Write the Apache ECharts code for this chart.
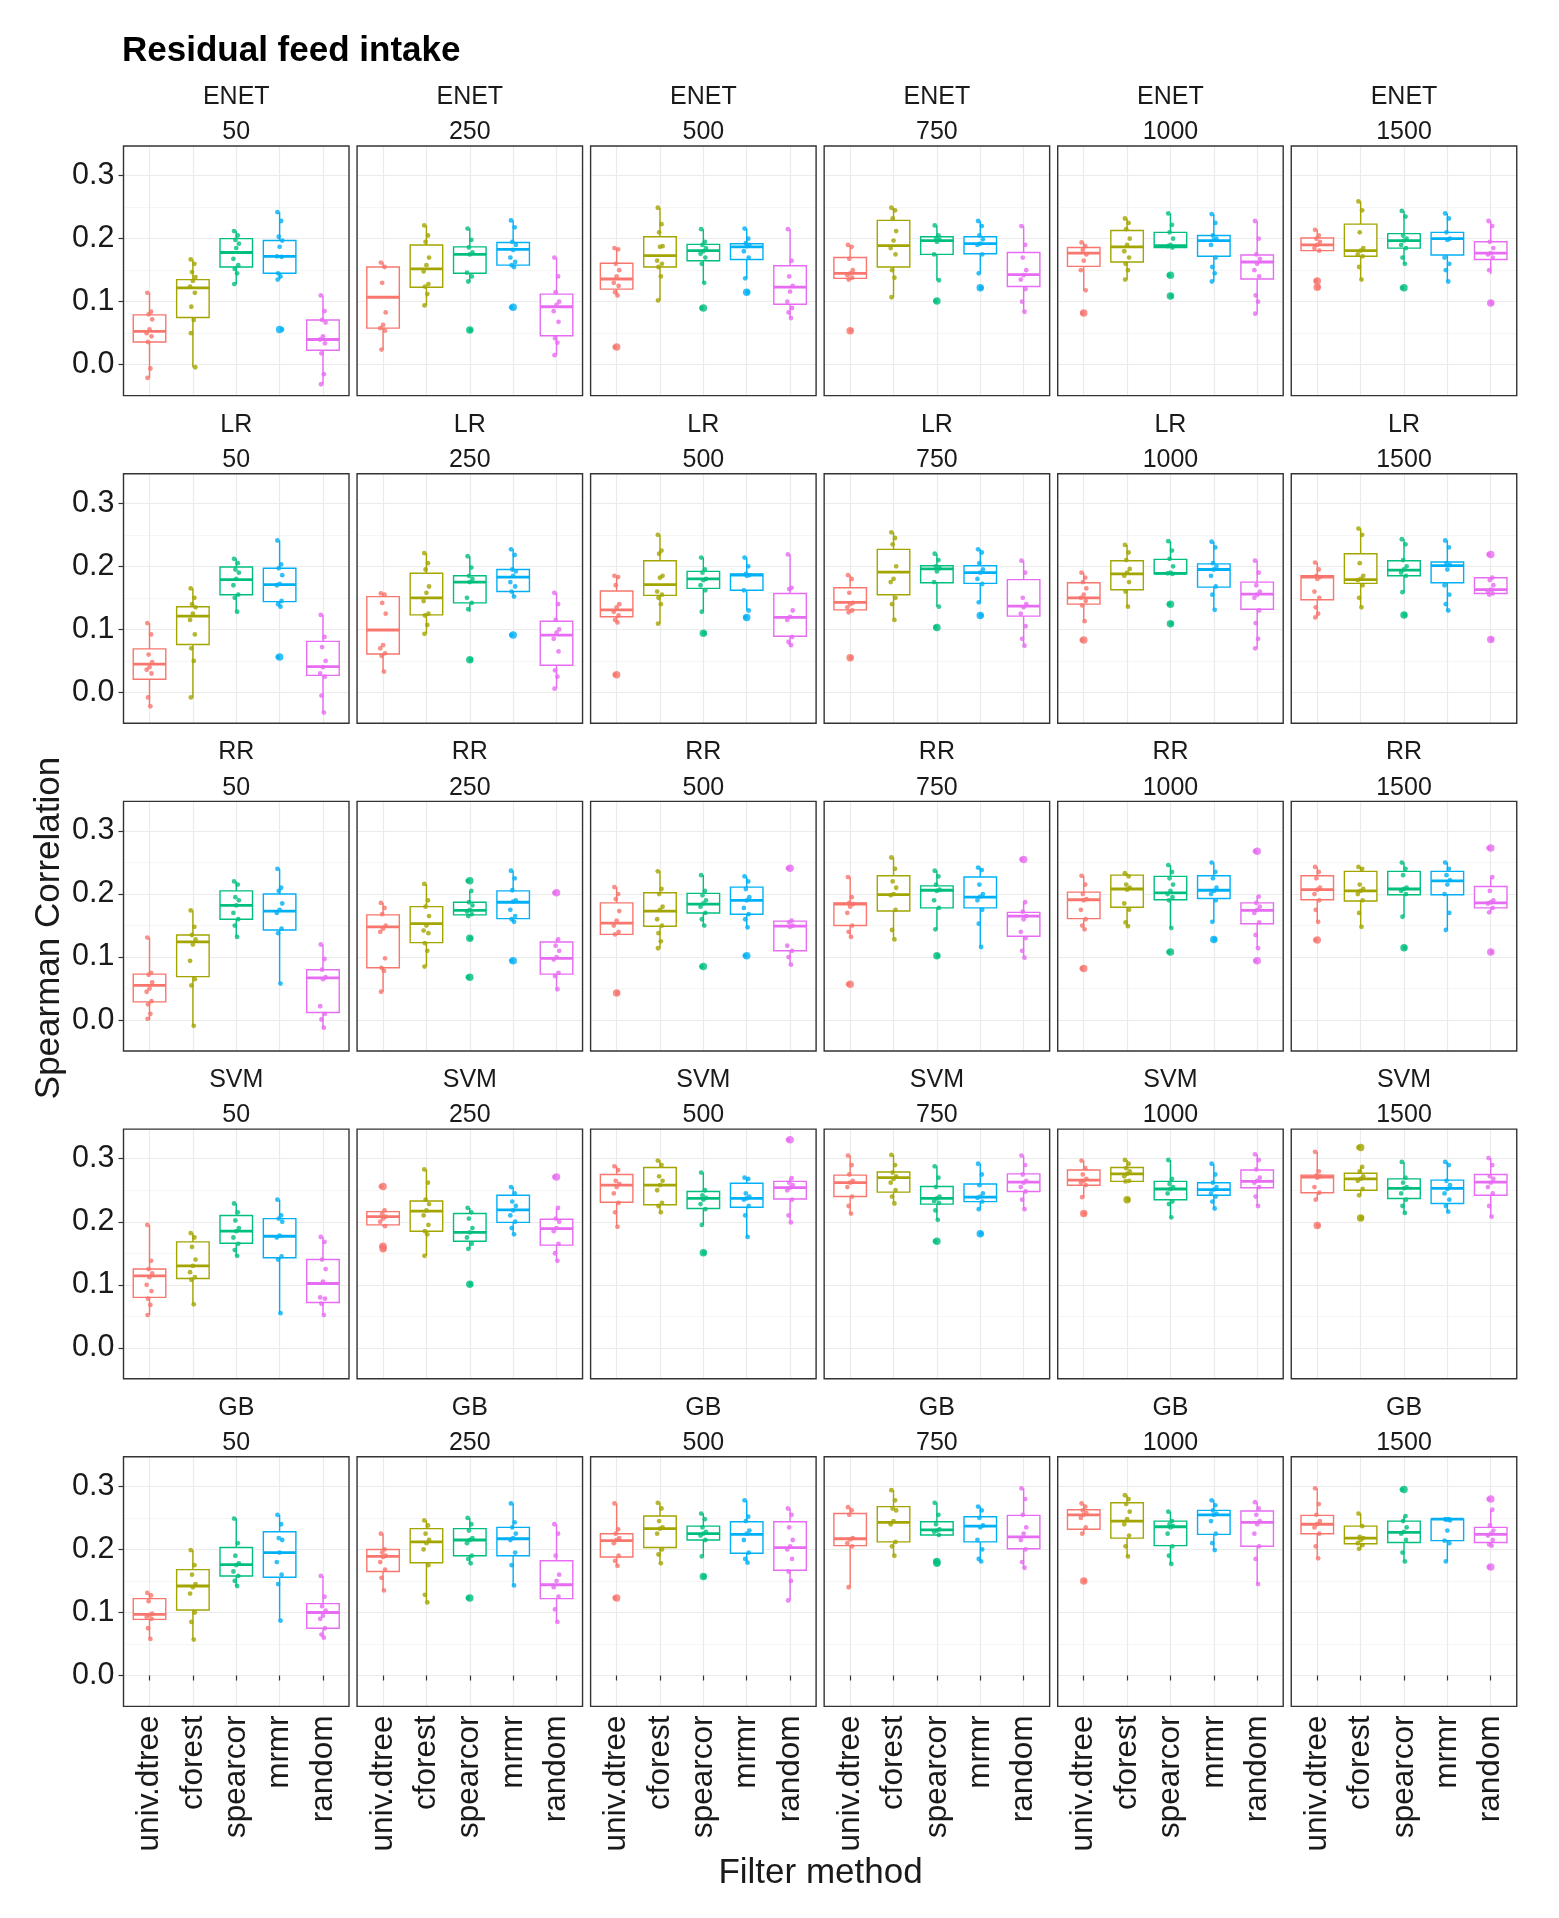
<!DOCTYPE html>
<html><head><meta charset="utf-8">
<script src="https://cdn.jsdelivr.net/npm/echarts@6/dist/echarts.min.js"></script>
<style>html,body{margin:0;padding:0;background:#fff}#c{width:1559px;height:1918px}</style>
</head><body><div id="c"></div>
<script>
const TITLE = 'Residual feed intake';
const Y_TITLE = 'Spearman Correlation';
const X_TITLE = 'Filter method';
const MODELS = ['ENET','LR','RR','SVM','GB'];
const SIZES = ['50','250','500','750','1000','1500'];
const METHODS = ['univ.dtree','cforest','spearcor','mrmr','random'];
const Y_TICKS = [0, 0.1, 0.2, 0.3];
const COLORS = ['#F8766D','#A3A500','#00BF7D','#00B0F6','#E76BF3'];

// box statistics per panel (size) and method: [lower whisker, Q1, median, Q3, upper whisker]
const BOX_ENET = [
 [[-0.021,0.036,0.053,0.079,0.114],[-0.004,0.075,0.122,0.135,0.167],[0.128,0.155,0.178,0.200,0.212],[0.135,0.145,0.172,0.197,0.242],[-0.031,0.023,0.040,0.071,0.110]],
 [[0.024,0.058,0.107,0.155,0.162],[0.094,0.123,0.152,0.190,0.221],[0.132,0.145,0.175,0.187,0.216],[0.155,0.158,0.183,0.194,0.229],[0.015,0.046,0.092,0.112,0.170]],
 [[0.110,0.120,0.136,0.161,0.185],[0.102,0.155,0.173,0.203,0.249],[0.130,0.165,0.181,0.191,0.215],[0.137,0.167,0.187,0.192,0.216],[0.074,0.096,0.123,0.157,0.215]],
 [[0.134,0.137,0.145,0.170,0.190],[0.107,0.155,0.189,0.229,0.249],[0.134,0.175,0.197,0.203,0.221],[0.145,0.176,0.192,0.203,0.228],[0.084,0.124,0.143,0.178,0.220]],
 [[0.118,0.156,0.177,0.186,0.194],[0.135,0.163,0.187,0.213,0.232],[0.186,0.186,0.189,0.210,0.240],[0.132,0.172,0.197,0.205,0.239],[0.081,0.136,0.163,0.174,0.228]],
 [[0.181,0.181,0.190,0.201,0.214],[0.135,0.172,0.181,0.223,0.259],[0.160,0.185,0.197,0.208,0.244],[0.132,0.174,0.200,0.210,0.240],[0.144,0.167,0.177,0.195,0.228]]
];
const BOX_LR = [
 [[-0.022,0.021,0.045,0.069,0.110],[-0.008,0.076,0.121,0.136,0.165],[0.128,0.155,0.179,0.199,0.212],[0.136,0.144,0.171,0.197,0.241],[-0.032,0.027,0.041,0.081,0.123]],
 [[0.033,0.061,0.099,0.152,0.157],[0.093,0.123,0.150,0.189,0.221],[0.128,0.142,0.175,0.185,0.216],[0.152,0.160,0.183,0.195,0.227],[0.006,0.043,0.091,0.113,0.158]],
 [[0.111,0.120,0.131,0.161,0.185],[0.109,0.154,0.171,0.209,0.250],[0.128,0.165,0.180,0.192,0.214],[0.130,0.162,0.186,0.188,0.214],[0.075,0.089,0.119,0.157,0.219]],
 [[0.127,0.131,0.143,0.166,0.186],[0.115,0.155,0.191,0.227,0.254],[0.136,0.174,0.196,0.201,0.220],[0.143,0.173,0.190,0.201,0.227],[0.074,0.121,0.137,0.179,0.209]],
 [[0.113,0.140,0.150,0.174,0.190],[0.136,0.163,0.188,0.209,0.234],[0.188,0.188,0.189,0.211,0.240],[0.131,0.167,0.195,0.204,0.239],[0.070,0.132,0.156,0.175,0.209]],
 [[0.119,0.147,0.183,0.185,0.206],[0.135,0.173,0.179,0.220,0.260],[0.159,0.185,0.194,0.209,0.243],[0.130,0.174,0.201,0.207,0.241],[0.155,0.157,0.163,0.182,0.182]]
];
const BOX_RR = [
 [[0.000,0.029,0.055,0.073,0.131],[-0.009,0.069,0.124,0.135,0.174],[0.132,0.160,0.182,0.205,0.220],[0.058,0.143,0.173,0.200,0.240],[-0.012,0.012,0.067,0.080,0.120]],
 [[0.045,0.083,0.148,0.167,0.186],[0.085,0.123,0.153,0.180,0.216],[0.165,0.167,0.174,0.187,0.205],[0.156,0.161,0.187,0.205,0.237],[0.049,0.073,0.098,0.124,0.128]],
 [[0.136,0.136,0.154,0.186,0.211],[0.114,0.149,0.173,0.202,0.236],[0.150,0.170,0.184,0.201,0.230],[0.147,0.168,0.190,0.211,0.228],[0.088,0.110,0.149,0.157,0.158]],
 [[0.132,0.150,0.184,0.186,0.227],[0.128,0.173,0.199,0.229,0.258],[0.144,0.178,0.206,0.213,0.237],[0.116,0.178,0.195,0.227,0.242],[0.099,0.133,0.165,0.171,0.187]],
 [[0.144,0.161,0.191,0.203,0.229],[0.149,0.179,0.208,0.230,0.233],[0.146,0.191,0.202,0.228,0.246],[0.156,0.193,0.206,0.229,0.250],[0.114,0.153,0.174,0.186,0.196]],
 [[0.156,0.191,0.207,0.229,0.243],[0.148,0.189,0.205,0.236,0.243],[0.164,0.199,0.208,0.236,0.250],[0.143,0.199,0.221,0.236,0.250],[0.171,0.178,0.186,0.212,0.227]]
];
const BOX_SVM = [
 [[0.052,0.080,0.114,0.125,0.195],[0.069,0.110,0.130,0.168,0.182],[0.146,0.166,0.185,0.210,0.229],[0.055,0.143,0.177,0.205,0.235],[0.052,0.072,0.102,0.140,0.176]],
 [[0.193,0.195,0.208,0.216,0.218],[0.146,0.185,0.217,0.233,0.283],[0.157,0.169,0.183,0.213,0.222],[0.180,0.199,0.219,0.242,0.255],[0.138,0.163,0.189,0.204,0.222]],
 [[0.192,0.231,0.258,0.275,0.288],[0.215,0.227,0.258,0.286,0.297],[0.195,0.221,0.237,0.248,0.278],[0.176,0.223,0.237,0.261,0.270],[0.199,0.236,0.254,0.264,0.269]],
 [[0.213,0.240,0.262,0.274,0.305],[0.229,0.247,0.270,0.279,0.306],[0.203,0.228,0.237,0.256,0.288],[0.220,0.232,0.239,0.260,0.292],[0.220,0.248,0.263,0.276,0.305]],
 [[0.239,0.258,0.266,0.282,0.297],[0.264,0.264,0.276,0.286,0.298],[0.207,0.235,0.252,0.264,0.298],[0.221,0.242,0.251,0.262,0.292],[0.225,0.254,0.264,0.282,0.307]],
 [[0.235,0.246,0.271,0.274,0.311],[0.242,0.250,0.268,0.277,0.287],[0.214,0.237,0.253,0.268,0.295],[0.216,0.229,0.253,0.266,0.295],[0.208,0.242,0.263,0.275,0.301]]
];
const BOX_GB = [
 [[0.058,0.089,0.097,0.122,0.131],[0.057,0.104,0.142,0.168,0.199],[0.142,0.158,0.176,0.203,0.249],[0.087,0.156,0.195,0.228,0.255],[0.060,0.075,0.100,0.114,0.158]],
 [[0.135,0.165,0.189,0.200,0.225],[0.116,0.179,0.212,0.233,0.246],[0.178,0.190,0.215,0.233,0.250],[0.143,0.190,0.217,0.235,0.273],[0.085,0.122,0.144,0.182,0.240]],
 [[0.174,0.188,0.214,0.225,0.273],[0.178,0.203,0.233,0.253,0.274],[0.189,0.215,0.225,0.237,0.257],[0.179,0.194,0.224,0.244,0.278],[0.119,0.167,0.203,0.244,0.265]],
 [[0.140,0.206,0.217,0.257,0.267],[0.190,0.212,0.243,0.268,0.294],[0.223,0.223,0.231,0.244,0.274],[0.181,0.212,0.237,0.252,0.268],[0.171,0.201,0.220,0.254,0.297]],
 [[0.225,0.232,0.255,0.263,0.273],[0.189,0.218,0.245,0.274,0.286],[0.177,0.206,0.236,0.245,0.260],[0.199,0.224,0.255,0.262,0.278],[0.145,0.205,0.243,0.261,0.275]],
 [[0.186,0.225,0.240,0.254,0.297],[0.201,0.209,0.218,0.237,0.257],[0.181,0.211,0.227,0.245,0.253],[0.181,0.214,0.248,0.248,0.248],[0.206,0.211,0.224,0.235,0.263]]
];

// individual fold values per panel and method
const PTS_ENET = [
 [[0.114,0.084,0.080,0.072,0.056,0.050,0.045,0.036,-0.006,-0.021],[0.167,0.160,0.147,0.139,0.133,0.124,0.114,0.092,0.071,0.050,-0.004],[0.212,0.205,0.198,0.192,0.185,0.168,0.158,0.152,0.145,0.128],[0.242,0.228,0.203,0.197,0.187,0.172,0.171,0.145,0.140,0.135,0.056],[0.110,0.085,0.071,0.067,0.045,0.040,0.034,0.018,-0.015,-0.031]],
 [[0.162,0.155,0.130,0.083,0.063,0.058,0.054,0.024],[0.221,0.205,0.195,0.170,0.158,0.148,0.128,0.124,0.112,0.094],[0.216,0.198,0.186,0.178,0.175,0.146,0.140,0.132,0.055],[0.229,0.218,0.195,0.190,0.182,0.170,0.163,0.158,0.155,0.091],[0.170,0.140,0.115,0.100,0.095,0.085,0.068,0.042,0.035,0.015]],
 [[0.185,0.183,0.160,0.150,0.140,0.130,0.125,0.115,0.110,0.028],[0.249,0.223,0.210,0.188,0.187,0.165,0.160,0.155,0.140,0.102],[0.215,0.195,0.190,0.185,0.180,0.176,0.170,0.160,0.130,0.090],[0.216,0.200,0.193,0.190,0.188,0.180,0.170,0.137,0.115],[0.215,0.165,0.140,0.125,0.116,0.100,0.090,0.083,0.074]],
 [[0.190,0.187,0.168,0.150,0.145,0.142,0.138,0.135,0.054],[0.249,0.245,0.232,0.212,0.197,0.185,0.175,0.150,0.138,0.107],[0.221,0.205,0.200,0.198,0.195,0.175,0.134,0.101],[0.228,0.220,0.205,0.199,0.192,0.190,0.175,0.145,0.122],[0.220,0.190,0.170,0.150,0.142,0.135,0.120,0.100,0.084]],
 [[0.194,0.188,0.182,0.175,0.165,0.150,0.118,0.082],[0.232,0.225,0.215,0.200,0.190,0.180,0.170,0.160,0.150,0.135],[0.240,0.222,0.210,0.200,0.190,0.188,0.186,0.142,0.109],[0.239,0.225,0.205,0.200,0.198,0.190,0.170,0.155,0.145,0.132],[0.228,0.200,0.175,0.168,0.160,0.150,0.140,0.110,0.100,0.081]],
 [[0.214,0.205,0.200,0.195,0.190,0.185,0.181,0.133,0.123],[0.259,0.245,0.210,0.185,0.181,0.175,0.172,0.155,0.135],[0.244,0.235,0.205,0.200,0.197,0.190,0.185,0.170,0.160,0.122],[0.240,0.232,0.210,0.200,0.198,0.170,0.160,0.150,0.132],[0.228,0.220,0.195,0.185,0.177,0.175,0.170,0.150,0.098]]
];
const PTS_LR = [
 [[0.110,0.092,0.060,0.048,0.040,0.036,0.030,-0.008,-0.022],[0.165,0.150,0.140,0.135,0.125,0.115,0.092,0.070,0.050,-0.008],[0.212,0.205,0.195,0.190,0.180,0.170,0.155,0.150,0.128],[0.241,0.203,0.197,0.186,0.172,0.170,0.145,0.140,0.136,0.056],[0.123,0.088,0.072,0.050,0.040,0.030,0.025,-0.005,-0.032]],
 [[0.157,0.155,0.142,0.125,0.075,0.070,0.062,0.058,0.033],[0.221,0.205,0.195,0.168,0.158,0.145,0.125,0.122,0.107,0.093],[0.216,0.198,0.185,0.180,0.175,0.150,0.142,0.132,0.052],[0.227,0.218,0.195,0.192,0.185,0.175,0.168,0.160,0.152,0.091],[0.158,0.140,0.115,0.100,0.095,0.085,0.065,0.035,0.025,0.006]],
 [[0.185,0.183,0.170,0.140,0.135,0.128,0.122,0.115,0.111,0.028],[0.250,0.225,0.220,0.185,0.182,0.160,0.155,0.150,0.140,0.109],[0.214,0.195,0.190,0.180,0.178,0.170,0.162,0.128,0.094],[0.214,0.200,0.188,0.186,0.185,0.162,0.130,0.119],[0.219,0.166,0.164,0.130,0.120,0.115,0.088,0.080,0.075]],
 [[0.186,0.180,0.158,0.142,0.140,0.135,0.130,0.127,0.055],[0.254,0.245,0.235,0.200,0.180,0.175,0.150,0.140,0.115],[0.220,0.210,0.200,0.197,0.192,0.175,0.136,0.103],[0.227,0.222,0.205,0.195,0.190,0.180,0.172,0.143,0.122],[0.209,0.190,0.150,0.140,0.135,0.125,0.105,0.085,0.074]],
 [[0.190,0.182,0.175,0.165,0.155,0.150,0.145,0.138,0.113,0.083],[0.234,0.222,0.210,0.196,0.190,0.185,0.175,0.160,0.136],[0.240,0.225,0.212,0.200,0.190,0.189,0.188,0.140,0.109],[0.239,0.230,0.205,0.200,0.195,0.185,0.168,0.155,0.131],[0.209,0.190,0.170,0.160,0.155,0.150,0.130,0.110,0.085,0.070]],
 [[0.206,0.195,0.185,0.183,0.180,0.160,0.150,0.135,0.125,0.119],[0.260,0.250,0.205,0.185,0.180,0.178,0.170,0.150,0.135],[0.243,0.235,0.210,0.200,0.195,0.190,0.185,0.159,0.123],[0.241,0.230,0.205,0.202,0.195,0.170,0.155,0.140,0.130],[0.219,0.182,0.178,0.170,0.163,0.160,0.157,0.155,0.084]]
];
const PTS_RR = [
 [[0.131,0.075,0.072,0.060,0.050,0.045,0.030,0.025,0.010,0.002],[0.174,0.148,0.135,0.128,0.120,0.094,0.065,0.055,-0.009],[0.220,0.215,0.195,0.190,0.182,0.170,0.160,0.150,0.132],[0.240,0.210,0.205,0.185,0.175,0.170,0.145,0.138,0.058],[0.120,0.097,0.080,0.068,0.065,0.022,0.010,0.001,-0.012]],
 [[0.186,0.178,0.168,0.150,0.145,0.140,0.098,0.083,0.078,0.045],[0.216,0.190,0.180,0.165,0.150,0.142,0.138,0.122,0.110,0.085],[0.221,0.205,0.187,0.182,0.175,0.172,0.168,0.165,0.130,0.068],[0.237,0.225,0.206,0.190,0.188,0.175,0.165,0.160,0.156,0.094],[0.202,0.128,0.118,0.110,0.100,0.096,0.075,0.070,0.049]],
 [[0.211,0.200,0.192,0.173,0.158,0.150,0.140,0.136,0.043],[0.236,0.208,0.200,0.180,0.175,0.160,0.150,0.138,0.125,0.114],[0.230,0.205,0.198,0.190,0.185,0.180,0.170,0.160,0.150,0.085],[0.228,0.220,0.208,0.195,0.190,0.178,0.168,0.160,0.147,0.102],[0.241,0.158,0.155,0.150,0.148,0.118,0.110,0.100,0.088]],
 [[0.227,0.195,0.186,0.184,0.180,0.170,0.150,0.140,0.132,0.057],[0.258,0.240,0.220,0.210,0.200,0.198,0.175,0.143,0.128],[0.237,0.228,0.215,0.207,0.205,0.190,0.178,0.144,0.102],[0.242,0.238,0.215,0.200,0.196,0.190,0.175,0.153,0.116],[0.255,0.187,0.172,0.165,0.160,0.140,0.130,0.110,0.099]],
 [[0.229,0.215,0.200,0.192,0.190,0.175,0.160,0.150,0.144,0.082],[0.233,0.228,0.215,0.210,0.207,0.185,0.175,0.155,0.149],[0.246,0.235,0.225,0.215,0.205,0.200,0.195,0.190,0.146,0.108],[0.250,0.235,0.225,0.210,0.205,0.200,0.190,0.156,0.128],[0.268,0.196,0.186,0.180,0.175,0.170,0.155,0.135,0.114,0.094]],
 [[0.243,0.235,0.225,0.210,0.207,0.200,0.190,0.175,0.156,0.127],[0.243,0.240,0.215,0.208,0.205,0.200,0.190,0.170,0.148],[0.250,0.240,0.230,0.210,0.208,0.205,0.200,0.164,0.115],[0.250,0.240,0.230,0.222,0.215,0.200,0.170,0.143],[0.273,0.227,0.205,0.190,0.187,0.185,0.178,0.171,0.108]]
];
const PTS_SVM = [
 [[0.195,0.138,0.125,0.118,0.112,0.100,0.090,0.078,0.068,0.052],[0.182,0.175,0.160,0.140,0.130,0.120,0.112,0.108,0.069],[0.229,0.215,0.202,0.190,0.185,0.175,0.165,0.155,0.146],[0.235,0.210,0.205,0.200,0.178,0.175,0.145,0.140,0.055],[0.176,0.168,0.140,0.125,0.105,0.080,0.078,0.070,0.052]],
 [[0.256,0.218,0.212,0.208,0.205,0.200,0.193,0.161,0.157],[0.283,0.262,0.235,0.228,0.218,0.210,0.195,0.185,0.180,0.146],[0.222,0.215,0.205,0.190,0.183,0.175,0.165,0.157,0.101],[0.255,0.245,0.232,0.225,0.218,0.210,0.200,0.190,0.180],[0.271,0.222,0.205,0.200,0.190,0.185,0.165,0.150,0.138]],
 [[0.288,0.282,0.265,0.260,0.255,0.245,0.230,0.215,0.192],[0.297,0.290,0.272,0.265,0.258,0.250,0.230,0.225,0.215],[0.278,0.250,0.242,0.238,0.235,0.228,0.220,0.195,0.151],[0.270,0.268,0.245,0.240,0.237,0.235,0.225,0.210,0.176],[0.330,0.269,0.262,0.258,0.254,0.250,0.235,0.210,0.199]],
 [[0.305,0.290,0.275,0.265,0.262,0.255,0.240,0.225,0.213],[0.306,0.290,0.278,0.272,0.268,0.262,0.250,0.240,0.229],[0.288,0.270,0.255,0.240,0.237,0.233,0.230,0.218,0.203,0.169],[0.292,0.275,0.258,0.245,0.240,0.238,0.232,0.220,0.181],[0.305,0.290,0.275,0.265,0.262,0.255,0.248,0.235,0.220]],
 [[0.297,0.285,0.275,0.268,0.265,0.262,0.258,0.239,0.213],[0.298,0.292,0.285,0.280,0.276,0.272,0.265,0.264,0.235],[0.298,0.268,0.260,0.255,0.252,0.245,0.232,0.228,0.207],[0.292,0.275,0.262,0.255,0.251,0.245,0.240,0.232,0.221],[0.307,0.298,0.283,0.270,0.265,0.262,0.255,0.240,0.225]],
 [[0.311,0.280,0.273,0.272,0.270,0.255,0.246,0.235,0.194],[0.318,0.287,0.280,0.272,0.268,0.265,0.252,0.242,0.206],[0.295,0.270,0.262,0.255,0.253,0.245,0.235,0.225,0.214],[0.295,0.290,0.265,0.258,0.252,0.245,0.235,0.225,0.216],[0.301,0.290,0.272,0.268,0.262,0.255,0.245,0.225,0.208]]
];
const PTS_GB = [
 [[0.131,0.127,0.118,0.098,0.096,0.093,0.090,0.075,0.058],[0.199,0.175,0.160,0.145,0.140,0.130,0.100,0.085,0.057],[0.249,0.210,0.190,0.178,0.175,0.165,0.158,0.150,0.142],[0.255,0.240,0.218,0.215,0.195,0.180,0.160,0.145,0.087],[0.158,0.125,0.110,0.103,0.095,0.090,0.075,0.065,0.060]],
 [[0.225,0.200,0.195,0.190,0.188,0.180,0.168,0.155,0.135],[0.246,0.238,0.225,0.215,0.210,0.200,0.175,0.128,0.116],[0.250,0.240,0.230,0.218,0.215,0.210,0.190,0.185,0.178,0.123],[0.273,0.243,0.235,0.225,0.218,0.215,0.195,0.175,0.143],[0.240,0.225,0.190,0.160,0.150,0.140,0.125,0.105,0.085]],
 [[0.273,0.232,0.225,0.218,0.215,0.210,0.190,0.182,0.174,0.123],[0.274,0.265,0.245,0.235,0.233,0.225,0.200,0.192,0.178],[0.257,0.248,0.235,0.228,0.225,0.222,0.215,0.189,0.157],[0.278,0.252,0.245,0.230,0.225,0.215,0.195,0.185,0.179],[0.265,0.255,0.235,0.215,0.205,0.200,0.185,0.165,0.150,0.119]],
 [[0.267,0.262,0.255,0.218,0.216,0.210,0.205,0.140],[0.294,0.278,0.265,0.262,0.245,0.240,0.212,0.205,0.190],[0.274,0.255,0.240,0.232,0.230,0.228,0.223,0.181,0.178],[0.268,0.262,0.250,0.238,0.235,0.215,0.200,0.185,0.181],[0.297,0.280,0.255,0.235,0.225,0.215,0.200,0.180,0.171]],
 [[0.273,0.268,0.262,0.258,0.255,0.250,0.235,0.225,0.150],[0.286,0.280,0.272,0.260,0.248,0.240,0.222,0.205,0.189],[0.260,0.245,0.240,0.237,0.235,0.225,0.205,0.190,0.177],[0.278,0.270,0.262,0.257,0.255,0.245,0.225,0.210,0.199],[0.275,0.265,0.255,0.245,0.240,0.225,0.205,0.185,0.145]],
 [[0.297,0.272,0.255,0.245,0.240,0.235,0.225,0.205,0.186],[0.257,0.237,0.220,0.218,0.215,0.210,0.207,0.201],[0.295,0.253,0.245,0.235,0.228,0.225,0.215,0.195,0.181],[0.248,0.248,0.247,0.246,0.230,0.214,0.210,0.181],[0.280,0.263,0.238,0.230,0.225,0.222,0.215,0.208,0.206,0.172]]
];

const BOXES = [BOX_ENET, BOX_LR, BOX_RR, BOX_SVM, BOX_GB];
const POINTS = [PTS_ENET, PTS_LR, PTS_RR, PTS_SVM, PTS_GB];

// ---- layout / style ----
const FONT = '"Liberation Sans", Arial, Helvetica, sans-serif';
const TXT = '#1a1a1a';
const X0 = 123.5, COLSTEP = 233.55, PW = 225.5;
const Y0 = 146, ROWSTEP = 327.7, PH = 249.6;
const YMIN = -0.049, YMAX = 0.347;
const JIT = [-0.05, 0.035, -0.02, 0.06, 0.0, -0.065, 0.045, -0.035, 0.02, -0.045, 0.055];

function renderBox(params, api) {
  const x = api.value(0);
  const col = COLORS[api.value(6)];
  const lo = api.coord([x, api.value(1)]);
  const q1 = api.coord([x, api.value(2)]);
  const md = api.coord([x, api.value(3)]);
  const q3 = api.coord([x, api.value(4)]);
  const hi = api.coord([x, api.value(5)]);
  const hw = api.size([1, 0])[0] * 0.375;
  const cx = q1[0];
  return { type: 'group', children: [
    { type: 'line', shape: { x1: cx, y1: hi[1], x2: cx, y2: q3[1] }, style: { stroke: col, lineWidth: 1.4 } },
    { type: 'line', shape: { x1: cx, y1: q1[1], x2: cx, y2: lo[1] }, style: { stroke: col, lineWidth: 1.4 } },
    { type: 'rect', shape: { x: cx - hw, y: q3[1], width: 2 * hw, height: q1[1] - q3[1] }, style: { fill: '#fff', stroke: col, lineWidth: 1.4 } },
    { type: 'line', shape: { x1: cx - hw, y1: md[1], x2: cx + hw, y2: md[1] }, style: { stroke: col, lineWidth: 2.8 } }
  ]};
}

const grids = [], xAxes = [], yAxes = [], series = [], graphics = [];
const fmtY = v => Y_TICKS.some(t => Math.abs(t - v) < 1e-6) ? v.toFixed(1) : '';

BOXES.forEach((modelBoxes, r) => {
  modelBoxes.forEach((panelBoxes, c) => {
    const p = r * 6 + c;
    const left = X0 + c * COLSTEP, top = Y0 + r * ROWSTEP;
    const unit = PW / 5.2;
    const isBottom = r === MODELS.length - 1, isLeft = c === 0;
    grids.push({ left, top, width: PW, height: PH, show: true, borderColor: '#333', borderWidth: 1.4, backgroundColor: 'transparent', z: 10 });
    grids.push({ left: left + 0.6 * unit, top, width: 4 * unit, height: PH, show: false });
    const gA = 2 * p, gB = 2 * p + 1;
    xAxes.push({ type: 'value', gridIndex: gA, min: 0, max: 1, show: false });
    xAxes.push({ type: 'category', gridIndex: gB, data: METHODS, boundaryGap: false,
      axisLine: { show: false },
      axisTick: { show: isBottom, interval: 0, length: 5, lineStyle: { color: '#333', width: 1.2 } },
      axisLabel: { show: isBottom, interval: 0, rotate: 90, margin: 9, fontSize: 31.5, color: TXT, fontFamily: FONT },
      splitLine: { show: true, interval: 0, lineStyle: { color: '#EBEBEB', width: 1.2 } } });
    xAxes.push({ type: 'value', gridIndex: gB, min: 1, max: 5, show: false });
    yAxes.push({ type: 'value', gridIndex: gA, min: YMIN, max: YMAX, splitNumber: 4,
      axisLine: { show: false },
      axisTick: { show: isLeft, length: 5, customValues: Y_TICKS, lineStyle: { color: '#333', width: 1.2 } },
      axisLabel: { show: isLeft, customValues: Y_TICKS, formatter: fmtY, margin: 9, fontSize: 30.5, color: TXT, fontFamily: FONT },
      splitLine: { show: true, lineStyle: { color: '#EBEBEB', width: 1.2 } },
      minorTick: { show: false, splitNumber: 2 },
      minorSplitLine: { show: true, lineStyle: { color: '#F2F2F2', width: 0.7 } } });
    yAxes.push({ type: 'value', gridIndex: gB, min: YMIN, max: YMAX, show: false });

    const xi = 3 * p + 2, yi = 2 * p + 1;
    series.push({ type: 'custom', xAxisIndex: xi, yAxisIndex: yi, renderItem: renderBox, clip: false, silent: true, z: 2,
      encode: { x: 0, y: 3 },
      data: panelBoxes.map((b, i) => [i + 1, b[0], b[1], b[2], b[3], b[4], i]) });
    const outl = [], pts = [];
    POINTS[r][c].forEach((vals, i) => {
      const b = panelBoxes[i];
      vals.forEach((v, k) => {
        pts.push({ value: [i + 1 + JIT[k % JIT.length], v], itemStyle: { color: COLORS[i] } });
        if (v < b[0] - 1e-9 || v > b[4] + 1e-9) outl.push({ value: [i + 1, v], itemStyle: { color: COLORS[i] } });
      });
    });
    series.push({ type: 'scatter', xAxisIndex: xi, yAxisIndex: yi, symbolSize: 7.5, clip: false, silent: true, z: 3, data: outl });
    series.push({ type: 'scatter', xAxisIndex: xi, yAxisIndex: yi, symbolSize: 4.8, clip: false, silent: true, z: 4, data: pts });

    const cx = left + PW / 2;
    graphics.push({ type: 'text', x: cx, y: top - 49, silent: true,
      style: { text: MODELS[r], font: '25px ' + FONT, fill: TXT, textAlign: 'center', textVerticalAlign: 'middle' } });
    graphics.push({ type: 'text', x: cx, y: top - 13.5, silent: true,
      style: { text: SIZES[c], font: '25px ' + FONT, fill: TXT, textAlign: 'center', textVerticalAlign: 'middle' } });
  });
});

graphics.push({ type: 'text', x: 122, y: 51.5, silent: true,
  style: { text: TITLE, font: 'bold 35px ' + FONT, fill: '#000', textAlign: 'left', textVerticalAlign: 'middle' } });
graphics.push({ type: 'text', x: 49.5, y: 928, rotation: Math.PI / 2, silent: true,
  style: { text: Y_TITLE, font: '35px ' + FONT, fill: TXT, textAlign: 'center', textVerticalAlign: 'middle' } });
graphics.push({ type: 'text', x: 820.5, y: 1873, silent: true,
  style: { text: X_TITLE, font: '35px ' + FONT, fill: TXT, textAlign: 'center', textVerticalAlign: 'middle' } });

const chart = echarts.init(document.getElementById('c'), null, { renderer: 'canvas' });
chart.setOption({
  animation: false,
  backgroundColor: '#fff',
  grid: grids, xAxis: xAxes, yAxis: yAxes, series,
  graphic: { elements: graphics }
});
</script>
</body></html>
